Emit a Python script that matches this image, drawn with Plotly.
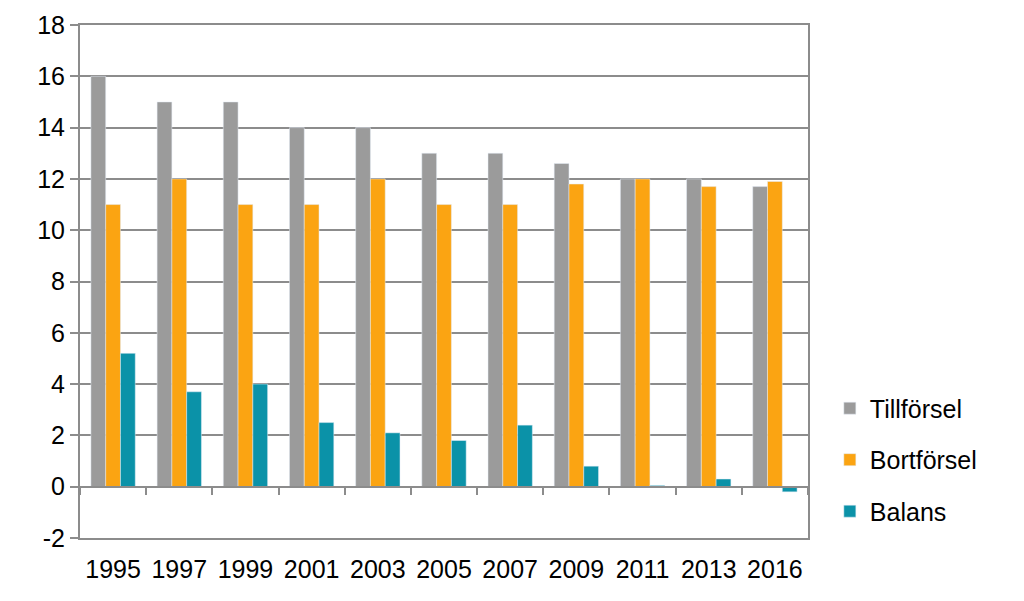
import plotly.graph_objects as go

years = ["1995", "1997", "1999", "2001", "2003", "2005", "2007", "2009", "2011", "2013", "2016"]
tillforsel = [16, 15, 15, 14, 14, 13, 13, 12.6, 12.0, 12.0, 11.7]
bortforsel = [11, 12, 11, 11, 12, 11, 11, 11.8, 12.0, 11.7, 11.9]
balans = [5.2, 3.7, 4.0, 2.5, 2.1, 1.8, 2.4, 0.8, 0.05, 0.3, -0.2]
y_ticks = list(range(-2, 19, 2))
y_labels = [str(v) for v in y_ticks]

FONT = "Liberation Sans"
GRID = "#8c8c8c"

fig = go.Figure()
fig.add_trace(go.Bar(x=years, y=tillforsel, name="Tillförsel", marker_color="#9b9b9b", legendgroup="a"))
fig.add_trace(go.Bar(x=years, y=bortforsel, name="Bortförsel", marker_color="#fba412", legendgroup="b"))
fig.add_trace(go.Bar(x=years, y=balans, name="Balans", marker_color="#0b92a8", legendgroup="c"))
# invisible trace on second x axis to draw ticks at zero line
fig.add_trace(go.Bar(x=years, y=[0]*len(years), xaxis="x2", showlegend=False, hoverinfo="skip",
                     marker_color="rgba(0,0,0,0)"))

fig.update_layout(
    width=1016, height=593,
    margin=dict(l=72, r=216, t=17, b=63),
    plot_bgcolor="white", paper_bgcolor="white",
    barmode="group", bargap=0.33, bargroupgap=0,
    font=dict(family=FONT, size=25, color="black"),
    xaxis=dict(type="category", showline=True, linecolor=GRID, linewidth=2, mirror=True,
               ticks="outside", ticklen=8, tickcolor="rgba(0,0,0,0)", showgrid=False,
               tickfont=dict(size=25), automargin=False),
    xaxis2=dict(type="category", overlaying="x", anchor="free", position=0.1, side="bottom",
                showline=True, linecolor=GRID, linewidth=2, ticks="outside", ticklen=7,
                tickwidth=2, tickcolor=GRID, tickson="boundaries", showticklabels=False,
                showgrid=False, matches="x", automargin=False),
    yaxis=dict(range=[-2, 18], tickvals=y_ticks, ticktext=y_labels, showgrid=True, gridcolor=GRID,
               gridwidth=2, showline=True, linecolor=GRID, linewidth=2, mirror=True, zeroline=False,
               ticks="outside", ticklen=8, tickwidth=2, tickcolor=GRID, tickfont=dict(size=25),
               automargin=False),
    legend=dict(x=1.03, y=0.007, xanchor="left", yanchor="bottom", traceorder="grouped",
                tracegroupgap=16, font=dict(size=25), itemwidth=30),
)

fig.write_html("out.html")
